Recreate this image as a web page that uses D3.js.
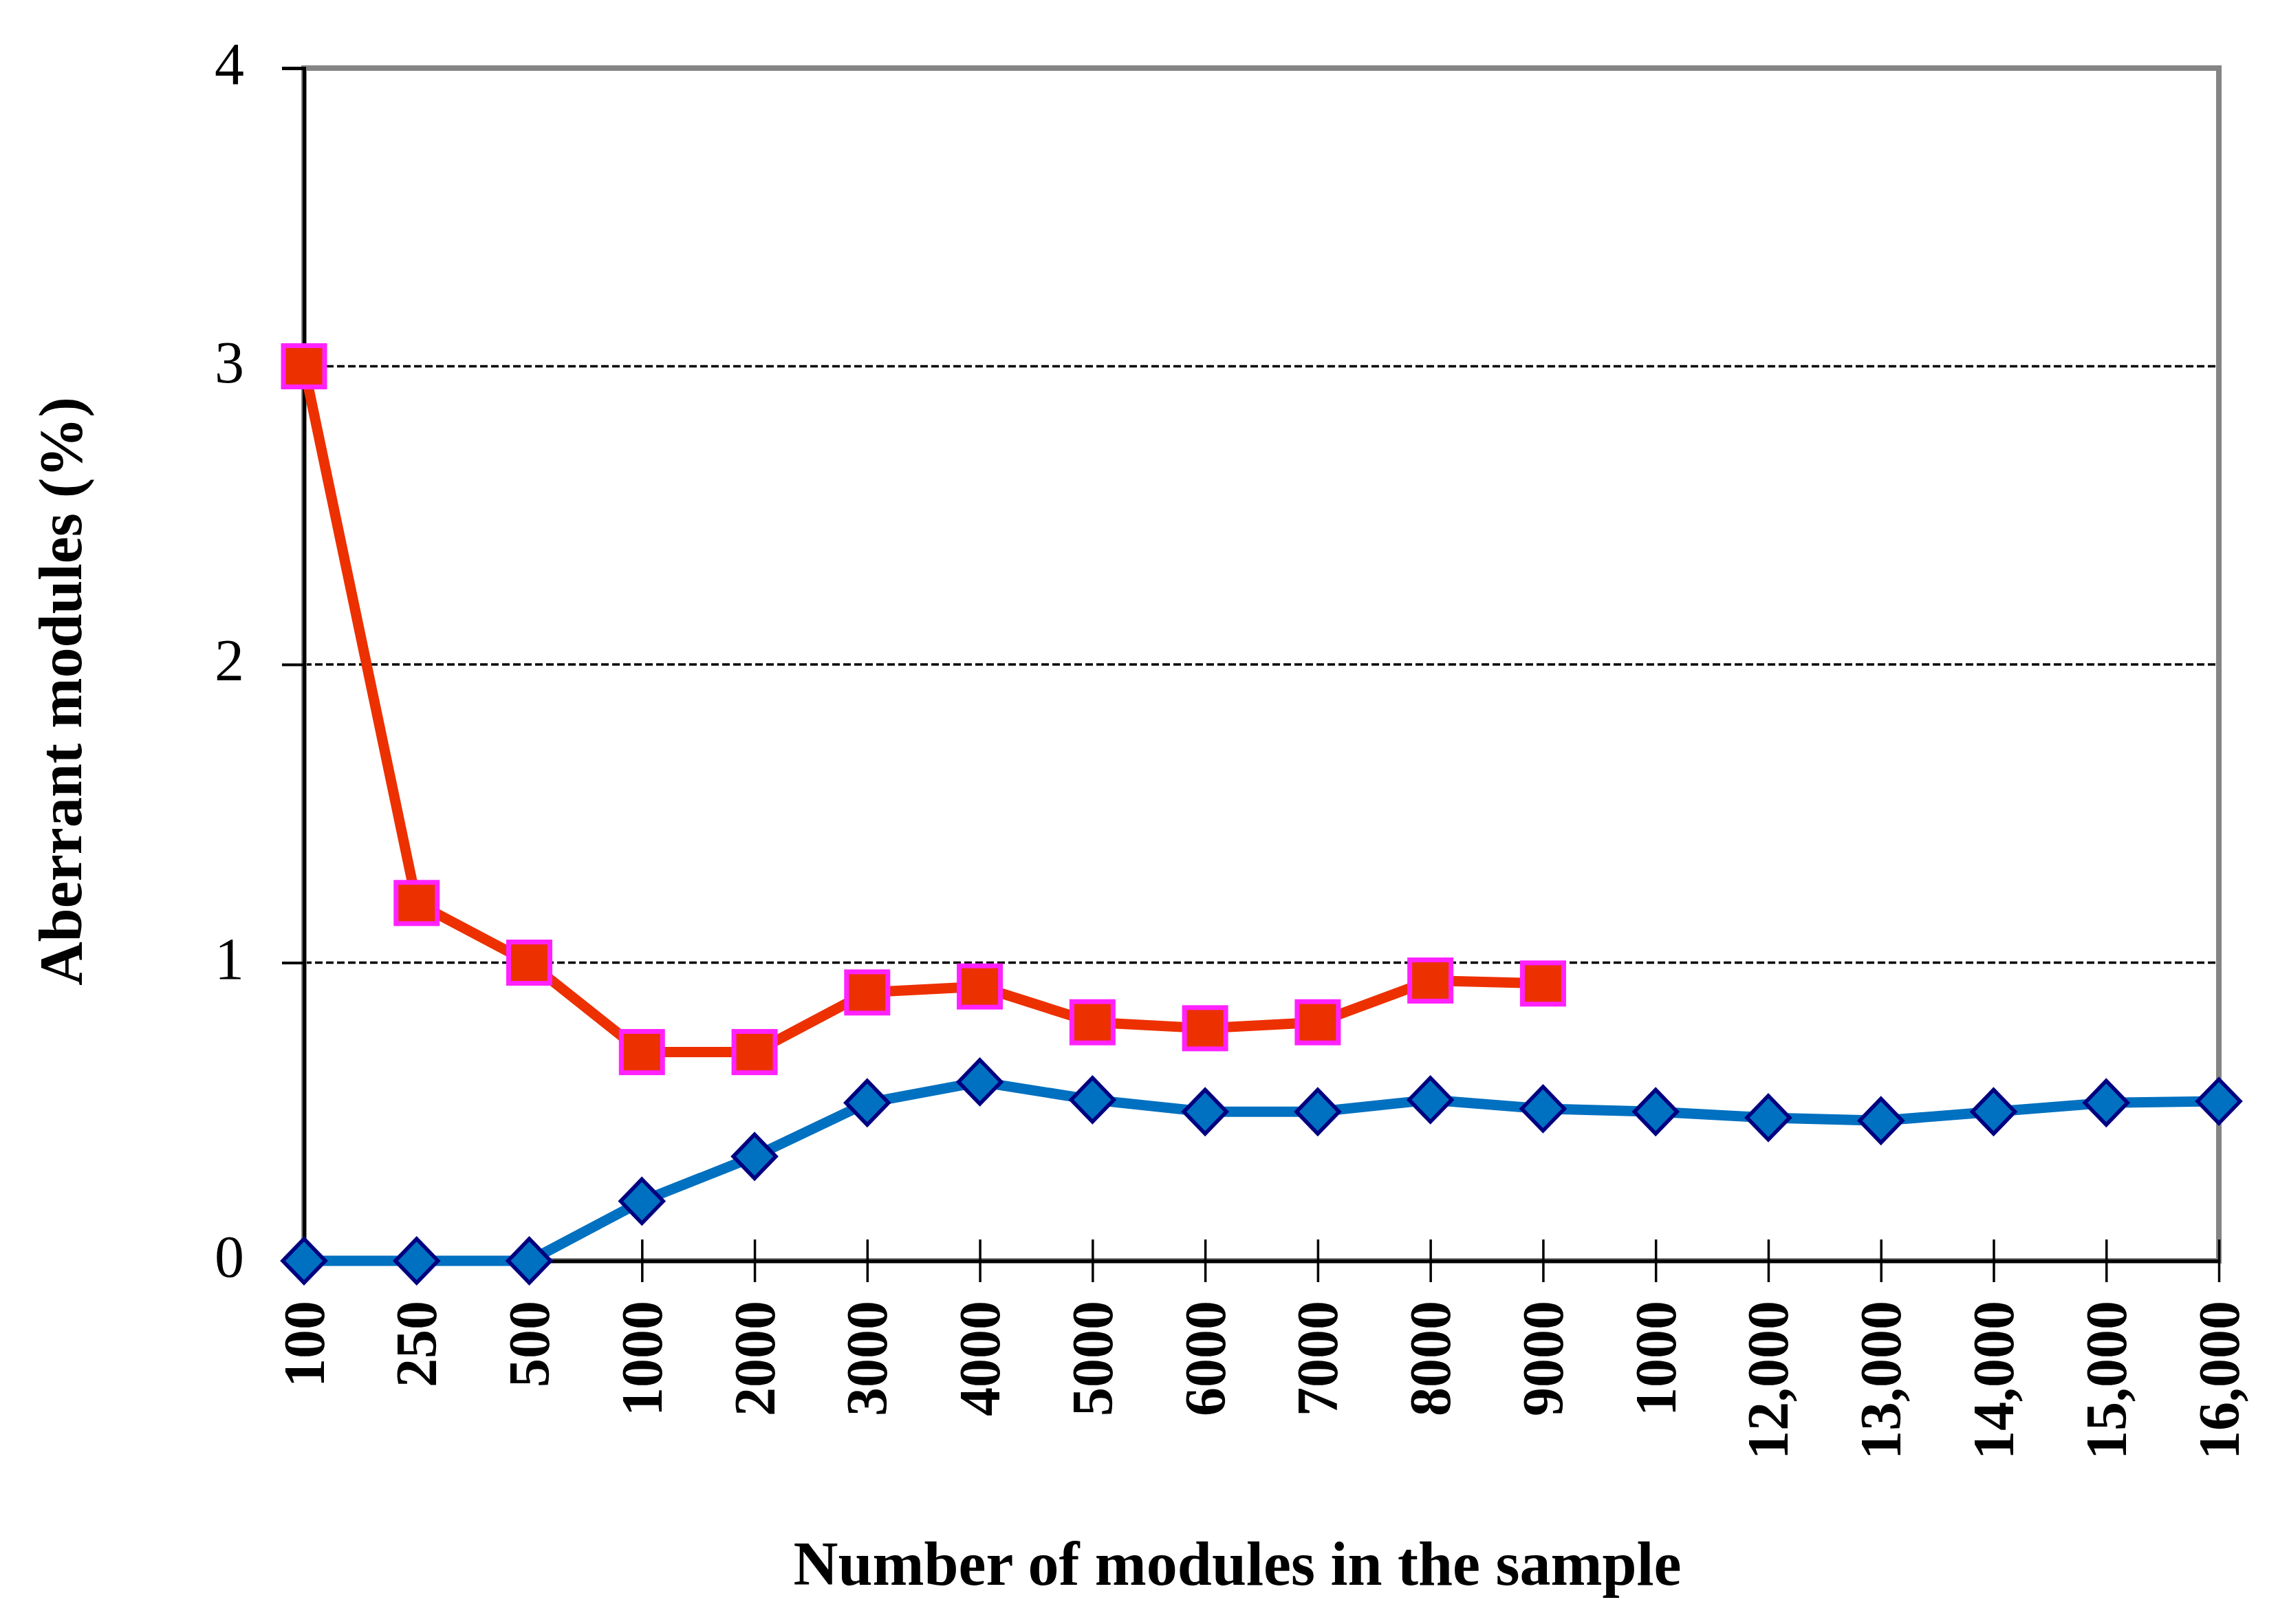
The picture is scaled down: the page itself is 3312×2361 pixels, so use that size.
<!DOCTYPE html>
<html>
<head>
<meta charset="utf-8">
<script src="https://cdn.jsdelivr.net/npm/d3@7"></script>
<style>
  html, body { margin: 0; padding: 0; background: #fff; }
  svg { display: block; }
</style>
</head>
<body>
<div id="chart"></div>
<script>
// categories on the x axis (the second "1000" is as printed in the figure)
var categories = ["100", "250", "500", "1000", "2000", "3000", "4000", "5000", "6000",
    "7000", "8000", "9000", "1000", "12,000", "13,000", "14,000", "15,000", "16,000"];

// red squares, measured from 100 to 9000 only
var redValues = [3.0, 1.2, 1.0, 0.7, 0.7, 0.9, 0.92, 0.8, 0.78, 0.8, 0.94, 0.93];

// blue diamonds, all categories
var blueValues = [0, 0, 0, 0.2, 0.35, 0.53, 0.6, 0.54, 0.5, 0.5, 0.54, 0.51,
    0.5, 0.48, 0.47, 0.5, 0.53, 0.535];

var yTicks = [0, 1, 2, 3, 4];

var W = 3312, H = 2361;
var margin = { left: 442, right: 3226, top: 99, bottom: 1833 };
var serif = "'Liberation Serif', 'DejaVu Serif', serif";

var svg = d3.select("#chart").append("svg")
    .attr("width", W)
    .attr("height", H);

svg.append("rect").attr("width", W).attr("height", H).attr("fill", "#fff");

var x = d3.scalePoint()
    .domain(d3.range(categories.length))
    .range([margin.left, margin.right])
    .padding(0);

var y = d3.scaleLinear().domain([0, 4]).range([margin.bottom, margin.top]);

// dashed gridlines
svg.append("g")
    .selectAll("line")
    .data(yTicks.filter(function(d) { return d > 0 && d < 4; }))
    .enter().append("line")
    .attr("x1", margin.left)
    .attr("x2", margin.right)
    .attr("y1", function(d) { return y(d); })
    .attr("y2", function(d) { return y(d); })
    .attr("stroke", "#000")
    .attr("stroke-width", 3.5)
    .attr("stroke-dasharray", "11,5");

// plot area border (grey)
svg.append("rect")
    .attr("x", margin.left)
    .attr("y", margin.top)
    .attr("width", margin.right - margin.left)
    .attr("height", margin.bottom - margin.top)
    .attr("fill", "none")
    .attr("stroke", "#858585")
    .attr("stroke-width", 8);

// y axis
var yAxis = svg.append("g")
    .attr("transform", "translate(" + margin.left + ",0)")
    .call(d3.axisLeft(y).tickValues(yTicks).tickSize(32).tickFormat(""));
yAxis.select(".domain").attr("stroke", "#000").attr("stroke-width", 5);
yAxis.selectAll(".tick line").attr("stroke", "#000").attr("stroke-width", 4);

svg.append("g")
    .selectAll("text")
    .data(yTicks)
    .enter().append("text")
    .attr("x", 355)
    .attr("y", function(d) { return y(d) - 6; })
    .attr("text-anchor", "end")
    .attr("dominant-baseline", "central")
    .attr("font-family", serif)
    .attr("font-size", 86)
    .attr("fill", "#000")
    .text(function(d) { return d; });

// x axis, ticks cross the line
var xAxis = svg.append("g")
    .attr("transform", "translate(0," + margin.bottom + ")")
    .call(d3.axisBottom(x).tickSize(31).tickSizeOuter(0).tickFormat(""));
xAxis.select(".domain").attr("stroke", "#000").attr("stroke-width", 5);
xAxis.selectAll(".tick line")
    .attr("y1", -31)
    .attr("stroke", "#000")
    .attr("stroke-width", 3.5);

svg.append("g")
    .selectAll("text")
    .data(categories)
    .enter().append("text")
    .attr("transform", function(d, i) {
        return "translate(" + x(i) + "," + (margin.bottom + 58) + ") rotate(-90)";
    })
    .attr("text-anchor", "end")
    .attr("dominant-baseline", "central")
    .attr("font-family", serif)
    .attr("font-size", 84)
    .attr("font-weight", "bold")
    .attr("fill", "#000")
    .text(function(d) { return d; });

// axis titles
svg.append("text")
    .attr("x", 1799)
    .attr("y", 2304)
    .attr("text-anchor", "middle")
    .attr("font-family", serif)
    .attr("font-weight", "bold")
    .attr("font-size", 90)
    .attr("fill", "#000")
    .text("Number of modules in the sample");

svg.append("text")
    .attr("transform", "translate(118,1005) rotate(-90)")
    .attr("text-anchor", "middle")
    .attr("font-family", serif)
    .attr("font-weight", "bold")
    .attr("font-size", 88)
    .attr("fill", "#000")
    .text("Aberrant modules (%)");

// series lines
var line = d3.line()
    .x(function(d, i) { return x(i); })
    .y(function(d) { return y(d); });

svg.append("path")
    .datum(blueValues)
    .attr("d", line)
    .attr("fill", "none")
    .attr("stroke", "#0070C0")
    .attr("stroke-width", 15)
    .attr("stroke-linejoin", "round");

svg.append("path")
    .datum(redValues)
    .attr("d", line)
    .attr("fill", "none")
    .attr("stroke", "#ED3000")
    .attr("stroke-width", 15)
    .attr("stroke-linejoin", "round");

// diamonds
svg.append("g")
    .selectAll("path")
    .data(blueValues)
    .enter().append("path")
    .attr("transform", function(d, i) { return "translate(" + x(i) + "," + y(d) + ")"; })
    .attr("d", "M0,-32L31,0L0,32L-31,0Z")
    .attr("fill", "#0070C0")
    .attr("stroke", "#000080")
    .attr("stroke-width", 5.5);

// squares
svg.append("g")
    .selectAll("rect")
    .data(redValues)
    .enter().append("rect")
    .attr("x", function(d, i) { return x(i) - 30; })
    .attr("y", function(d) { return y(d) - 30; })
    .attr("width", 60)
    .attr("height", 60)
    .attr("fill", "#ED3000")
    .attr("stroke", "#FF22FF")
    .attr("stroke-width", 7);
</script>
</body>
</html>
